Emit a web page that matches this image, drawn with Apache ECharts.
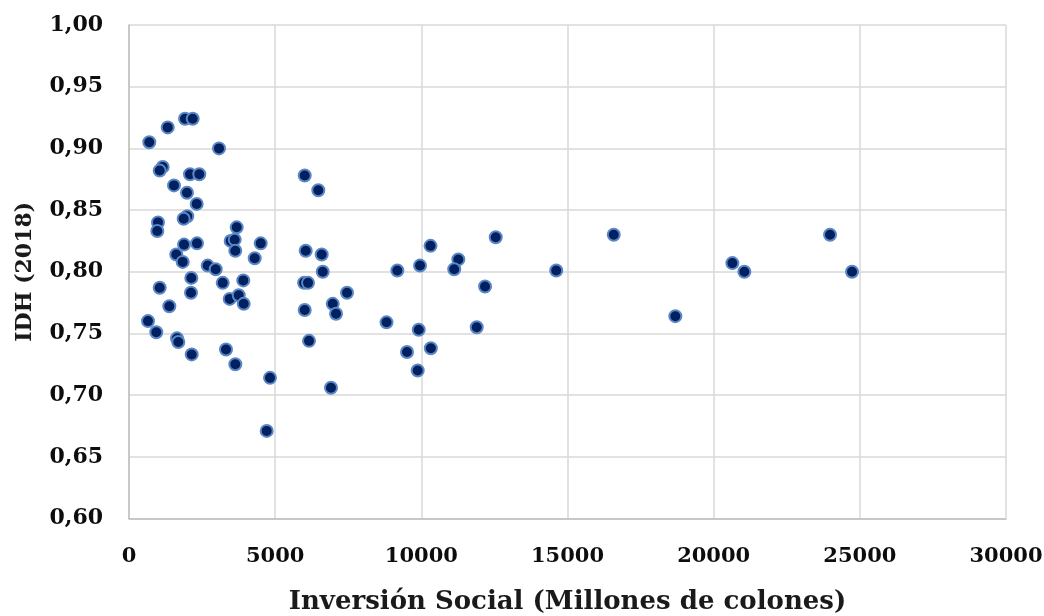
<!DOCTYPE html>
<html>
<head>
<meta charset="utf-8">
<script src="https://cdn.jsdelivr.net/npm/echarts@6/dist/echarts.min.js"></script>
<style>
  html, body { margin: 0; padding: 0; background: #ffffff; }
  #chart { width: 1044px; height: 616px; }
</style>
</head>
<body>
<div id="chart"></div>
<script>
// Inversión social por cantón (millones de colones) frente al IDH 2018
const inversionSocial = [
  694, 1324, 1916, 2179, 3079, 1153, 1050, 1539, 2087, 2405,
  1984, 2316, 1994, 1871, 992, 968, 3684, 1882, 2326, 3479,
  3616, 3636, 4505, 1618, 1837, 4300, 2692, 2966, 2131, 1050,
  2121, 3206, 3910, 3445, 3753, 3924, 1379, 650, 934, 1642,
  1687, 2145, 3318, 3637, 4824, 4711, 6011, 6476, 6045, 6592,
  6627, 5987, 6124, 7458, 6969, 7082, 6011, 6158, 6910, 8809,
  9179, 9955, 10314, 11265, 11125, 12545, 12179, 14615, 9911, 11895,
  9510, 10325, 9876, 16582, 18689, 20639, 21050, 23981, 24734
];
const idh2018 = [
  0.905, 0.917, 0.924, 0.924, 0.900, 0.885, 0.882, 0.870, 0.879, 0.879,
  0.864, 0.855, 0.845, 0.843, 0.840, 0.833, 0.836, 0.822, 0.823, 0.825,
  0.826, 0.817, 0.823, 0.814, 0.808, 0.811, 0.805, 0.802, 0.795, 0.787,
  0.783, 0.791, 0.793, 0.778, 0.781, 0.774, 0.772, 0.760, 0.751, 0.746,
  0.743, 0.733, 0.737, 0.725, 0.714, 0.671, 0.878, 0.866, 0.817, 0.814,
  0.800, 0.791, 0.791, 0.783, 0.774, 0.766, 0.769, 0.744, 0.706, 0.759,
  0.801, 0.805, 0.821, 0.810, 0.802, 0.828, 0.788, 0.801, 0.753, 0.755,
  0.735, 0.738, 0.720, 0.830, 0.764, 0.807, 0.800, 0.830, 0.800
];

const xTitle = 'Inversión Social (Millones de colones)';
const yTitle = 'IDH (2018)';

const points = inversionSocial.map((v, i) => [v, idh2018[i]]);

const font = "'DejaVu Serif', 'Liberation Serif', serif";
const gridColor = '#d9d9d9';

const chart = echarts.init(document.getElementById('chart'), null, { renderer: 'canvas' });
chart.setOption({
  backgroundColor: '#ffffff',
  animation: false,
  grid: { left: 129, right: 38, top: 25, bottom: 97.5, containLabel: false, outerBoundsMode: 'none' },
  xAxis: {
    type: 'value',
    min: 0, max: 30000, interval: 5000,
    name: xTitle,
    nameLocation: 'middle',
    nameGap: 71,
    nameTextStyle: { fontFamily: font, fontWeight: 'bold', fontSize: 26, color: '#1a1a1a' },
    axisLine: { show: true, lineStyle: { color: '#bfbfbf', width: 1.5 } },
    axisTick: { show: false },
    splitLine: { show: true, lineStyle: { color: gridColor, width: 1.5 } },
    axisLabel: {
      margin: 28, fontFamily: font, fontWeight: 'bold', fontSize: 21, color: '#0d0d0d',
      formatter: v => String(v)
    }
  },
  yAxis: {
    type: 'value',
    min: 0.6, max: 1.0, interval: 0.05,
    name: yTitle,
    nameLocation: 'middle',
    nameGap: 93,
    nameRotate: 90,
    nameTextStyle: { fontFamily: font, fontWeight: 'bold', fontSize: 22, color: '#1a1a1a' },
    axisLine: { show: true, lineStyle: { color: '#bfbfbf', width: 1.5 } },
    axisTick: { show: false },
    splitLine: { show: true, lineStyle: { color: gridColor, width: 1.5 } },
    axisLabel: {
      margin: 26, fontFamily: font, fontWeight: 'bold', fontSize: 22, color: '#0d0d0d',
      formatter: v => v.toFixed(2).replace('.', ',')
    }
  },
  series: [{
    type: 'scatter',
    data: points,
    symbol: 'circle',
    symbolSize: 12,
    itemStyle: { color: '#002060', opacity: 1, borderColor: '#5b87c5', borderWidth: 2 }
  }]
});
</script>
</body>
</html>
